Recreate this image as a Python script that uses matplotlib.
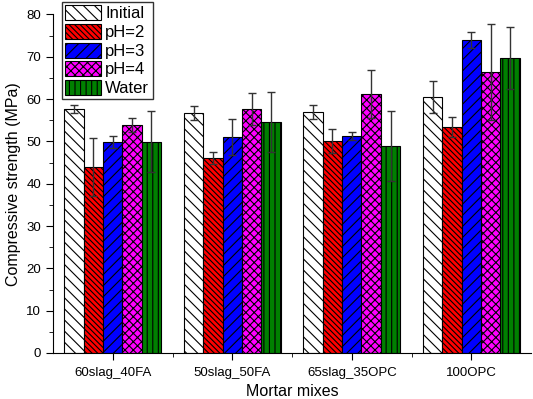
import numpy as np
import matplotlib.pyplot as plt
from matplotlib.ticker import MultipleLocator, FixedLocator

plt.rcParams['font.family'] = ['Liberation Sans', 'DejaVu Sans']
plt.rcParams['hatch.linewidth'] = 0.8

mixes = ["60slag_40FA", "50slag_50FA", "65slag_35OPC", "100OPC"]
series = ["Initial", "pH=2", "pH=3", "pH=4", "Water"]

initial = [57.7, 56.7, 57.0, 60.5]
ph2 = [44.0, 46.1, 50.1, 53.4]
ph3 = [49.9, 51.1, 51.3, 74.0]
ph4 = [53.9, 57.7, 61.2, 66.4]
water = [49.9, 54.6, 48.9, 69.7]

initial_err = [1.0, 1.6, 1.6, 3.8]
ph2_err = [6.8, 1.4, 2.9, 2.4]
ph3_err = [1.4, 4.2, 0.9, 1.9]
ph4_err = [1.7, 3.8, 5.7, 11.4]
water_err = [7.2, 7.1, 8.3, 7.4]

values = [initial, ph2, ph3, ph4, water]
errors = [initial_err, ph2_err, ph3_err, ph4_err, water_err]
colors = ["white", "#ff0000", "#0000ff", "#ff00ff", "#008000"]
hatches = ["\\\\\\", "\\\\\\\\\\\\", "///", "xxxx", "|||"]

fig = plt.figure(figsize=(5.33, 3.99), dpi=100)
ax = fig.add_axes([0.0994, 0.1153, 0.897, 0.8484])

x = np.arange(1, len(mixes) + 1)
width = 0.162
for i, name in enumerate(series):
    pos = x + (i - 2) * width
    ax.bar(pos, values[i], width, color=colors[i], edgecolor="black",
           linewidth=0.8, hatch=hatches[i], label=name)
    ax.errorbar(pos, values[i], yerr=errors[i], fmt="none", ecolor="#333333",
                elinewidth=1, capsize=3, capthick=1)

ax.set_xlim(0.5, 4.5)
ax.set_ylim(0, 80)
ax.set_xticks(x)
ax.set_xticklabels(mixes, fontsize=9.5)
ax.xaxis.set_minor_locator(FixedLocator([1.5, 2.5, 3.5]))
ax.yaxis.set_major_locator(MultipleLocator(10))
ax.yaxis.set_minor_locator(MultipleLocator(5))
ax.tick_params(axis="both", which="major", direction="out", length=5, labelsize=9.5)
ax.tick_params(axis="x", which="major", pad=5)
ax.tick_params(axis="both", which="minor", direction="out", length=3)
ax.spines["top"].set_visible(False)
ax.spines["right"].set_visible(False)
ax.set_xlabel("Mortar mixes", fontsize=11.5)
ax.set_ylabel("Compressive strength (MPa)", fontsize=11.5)

leg = ax.legend(loc="upper left", bbox_to_anchor=(0.019, 1.037), borderaxespad=0,
                fontsize=12, handlelength=2.15, handleheight=1.0, fancybox=False,
                edgecolor="#333333", framealpha=1, borderpad=0.2, labelspacing=0.15,
                handletextpad=0.25)
leg.get_frame().set_linewidth(1.0)

fig.savefig("out.png", dpi=100)
